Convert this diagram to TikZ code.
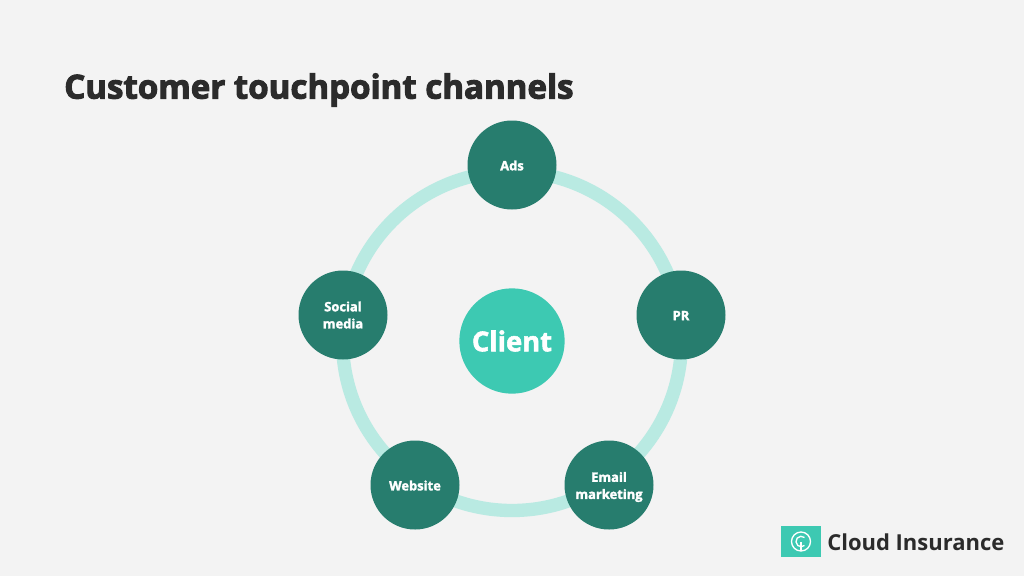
\documentclass[tikz,border=0pt]{standalone}
\usepackage{fontspec}
\setmainfont{Open Sans}
\newfontfamily\heavyfont[FakeBold=3]{Open Sans Bold}
\newfontfamily\chanfont[FakeBold=2]{Open Sans Bold}
\usepackage{tikz}
\definecolor{bgcol}{HTML}{F3F3F3}
\definecolor{ringcol}{HTML}{B9EAE2}
\definecolor{darkcol}{HTML}{277D6E}
\definecolor{lightcol}{HTML}{3DC9B2}
\definecolor{inkcol}{HTML}{2B2B2B}
\tikzset{
  channel/.style={circle,fill=darkcol,minimum size=66.75pt,inner sep=0pt},
  chantext/.style={align=center,text=white,font=\fontsize{9.7}{12.8}\selectfont\chanfont},
}
\begin{document}
\begin{tikzpicture}[x=0.75pt,y=0.75pt,yscale=-1,xscale=1]
\fill [bgcol] (0,0) rectangle (1024,576);
\useasboundingbox (0,0) rectangle (1024,576);
% ring
\draw [ringcol,line width=10pt] (512,341) circle (169.5);
% Text Node
\node (title) [anchor=west,inner sep=0pt,text=inkcol,font=\fontsize{24.8}{30}\selectfont\heavyfont] at (64,90) {Customer touchpoint channels};
% channels
\node (ads) [channel,label={[chantext,yshift=-0.4pt]center:Ads}] at (512,165) {};
\node (pr) [channel,label={[chantext,yshift=-0.4pt]center:PR}] at (681,315) {};
\node (email) [channel,label={[chantext,yshift=-1.5pt]center:Email\\marketing}] at (609,485) {};
\node (website) [channel,label={[chantext,yshift=-0.4pt]center:Website}] at (415,485) {};
\node (social) [channel,label={[chantext]center:Social\\media}] at (343,315) {};
\node (client) [circle,fill=lightcol,minimum size=79pt,inner sep=0pt,text=white,font=\fontsize{20.5}{25}\selectfont\chanfont] at (512,341) {Client};
% logo
\node (logo) [rectangle,fill=lightcol,minimum width=30pt,minimum height=23pt,inner sep=0pt] at (801,541.5) {};
\draw [white,line width=1pt] (801,541.5) circle (9.5);
\draw [white,line width=1pt] (804.5,537.5) arc (-50:-310:5.2);
\draw [white,line width=1pt] (801,551) -- (801,541.5);
\node (brand) [anchor=west,inner sep=0pt,text=inkcol,font=\fontsize{16.5}{21}\selectfont\bfseries] at (827,542.5) {Cloud Insurance};
\end{tikzpicture}
\end{document}
